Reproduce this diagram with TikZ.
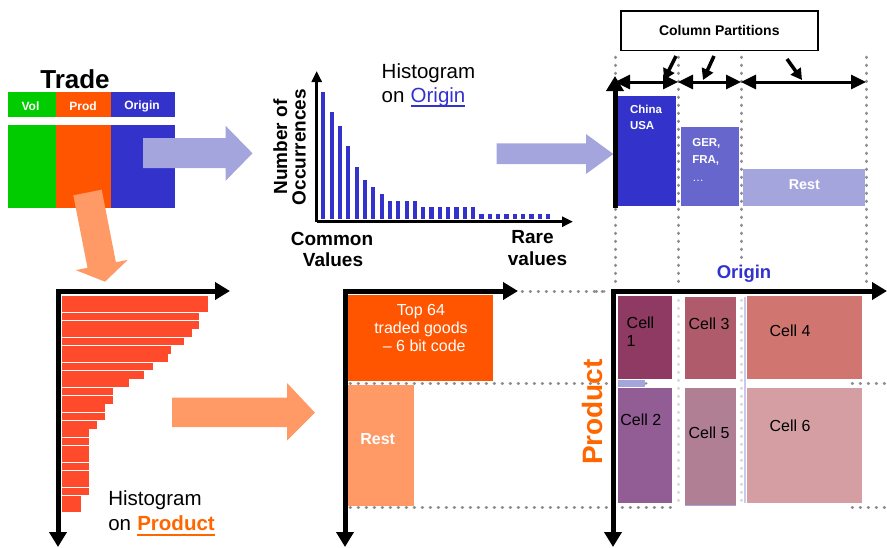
\documentclass[tikz,border=0pt]{standalone}
\usepackage{fontspec}
\setmainfont{Liberation Sans}
\usetikzlibrary{arrows.meta}
\definecolor{volgreen}{HTML}{00CC00}
\definecolor{prodorange}{HTML}{FF5500}
\definecolor{origblue}{HTML}{3333CC}
\definecolor{lav}{HTML}{A5A5DD}
\definecolor{lightor}{HTML}{FF9966}
\definecolor{hbar}{HTML}{FF4B2B}
\definecolor{midblue}{HTML}{6666CC}
\definecolor{prodtxt}{HTML}{FF6600}
\definecolor{dotgray}{HTML}{8E8E8E}
\definecolor{cellA}{HTML}{8E3A62}
\definecolor{cellB}{HTML}{925C94}
\definecolor{cellC}{HTML}{B05B6B}
\definecolor{cellD}{HTML}{D0756F}
\definecolor{cellE}{HTML}{B07F94}
\definecolor{cellF}{HTML}{D49EA2}
\newcommand\fsz[1]{\fontsize{#1}{#1}\selectfont}
\tikzset{axtip/.tip={Triangle[length=15pt,width=17pt]}}
\begin{document}
\begin{tikzpicture}[x=1pt,y=-1pt,
  txt/.style={inner sep=0pt,outer sep=0pt},
  dots/.style={draw=dotgray,line width=3pt,line cap=round,dash pattern=on 0.6pt off 7.4pt},
  faintdots/.style={dots,draw=black!15},
  axis/.style={line width=5pt},
  thinaxis/.style={line width=3pt,-{Triangle[length=11pt,width=10pt]}},
  span/.style={line width=3pt,{Triangle[length=15pt,width=14pt]}-{Triangle[length=15pt,width=14pt]}},
  pointer/.style={line width=3.5pt,-{Triangle[length=11pt,width=12pt]}},
  hdr/.style={txt,text=white,font=\bfseries\fsz{12}},
  lbl/.style={txt,font=\bfseries\fsz{19}},
  celltxt/.style={txt,font=\fsz{16}},
]
\useasboundingbox (0,0) rectangle (887,547);

% ---------- Trade table ----------
\node[txt,font=\bfseries\fsz{26},anchor=base] (trade) at (75,88) {Trade};
\fill[volgreen]   (8.3,91.7) rectangle (55.7,116.7);
\fill[prodorange] (55.7,91.7) rectangle (111,116.7);
\fill[origblue]   (111,91.7) rectangle (175,116.7);
\node[hdr] (hvol) at (30.5,106.5) {Vol};
\node[hdr] (hprod) at (83,106.5) {Prod};
\node[hdr] (horig) at (142,106.5) {Origin};
\fill[volgreen]   (8.3,125) rectangle (55.7,208.3);
\fill[prodorange] (55.7,125) rectangle (111,208.3);
\fill[origblue]   (111,125) rectangle (175,208.3);

% block arrows out of the table
\fill[lav] (143,138) -- (225.5,138) -- (225.5,125.7) -- (252.5,153.3) -- (225.5,180.9) -- (225.5,168) -- (143,168) -- cycle;
\fill[lightor] (73.3,195.3) -- (101.7,189.7) -- (115.9,262.2) -- (127.7,259.9) -- (105,281.7) -- (75.7,270.1) -- (87.5,267.8) -- cycle;

% ---------- histogram on origin ----------
\coordinate (oc) at (316.7,221.7);
\foreach \t [count=\i from 0] in {91.7,112.3,125.7,146,167.3,180,187,194,
    201,201,201,201,207,207,207,207,207,207,207,
    214.3,214.3,214.3,214.3,214.3,214.3,214.3,214.3,214.3}
  \fill[origblue] ({323.3+8.33*\i-2.1},\t) rectangle ({323.3+8.33*\i+2.1},219.3);
\draw[thinaxis] (oc) -- (316.7,71);
\draw[thinaxis] (oc) -- (573,221.7);
\node[lbl,rotate=90,anchor=base] (num) at (287,147) {Number of};
\node[lbl,rotate=90,anchor=base] (occ) at (305.5,147) {Occurrences};
\node[lbl,anchor=base] (common) at (332,245) {Common};
\node[lbl,anchor=base] (values) at (333,266.7) {Values};
\node[lbl,anchor=base] (rare) at (532.5,243) {Rare};
\node[lbl,anchor=base] (rarev) at (537.5,265) {values};
\node[txt,font=\fsz{20.5},anchor=base west] (hist1) at (381.7,78.3) {Histogram};
\node[txt,font=\fsz{20.5},anchor=base west] (on1) at (381.7,102.7) {on};
\node[txt,font=\fsz{20.5},text=origblue,anchor=base west] (orig1) at (410.7,102.7) {Origin};
\draw[origblue,line width=1.3pt] ([yshift=-3.2pt]orig1.base west) -- ([yshift=-3.2pt]orig1.base east);

\fill[lav] (496.7,143.3) -- (586,143.3) -- (586,134) -- (613.3,154) -- (586,174) -- (586,164) -- (496.7,164) -- cycle;

% ---------- column partitions ----------
\foreach \x/\y in {615/288,678/288,741/264,866/288}
  \draw[dots] (\x,57) -- (\x,\y);
\node[txt,draw,line width=1.5pt,minimum width=197pt,minimum height=39.7pt,font=\bfseries\fsz{14}] (cp) at (719.3,30.8) {Column Partitions};
\coordinate (p0) at (615,82);
\coordinate (p1) at (678,82);
\coordinate (p2) at (741,82);
\coordinate (p3) at (866,82);
\draw[span] (p0) -- (p1);
\draw[span] (p1) -- (p2);
\draw[span] (p2) -- (p3);
\draw[pointer] (676,56) -- (664,80);
\draw[pointer] (714,56) -- (703,80);
\draw[pointer] (787,59) -- (802,80);

\fill[origblue] (618,96) rectangle (676,206);
\fill[midblue] (680.7,127) rectangle (739,206);
\fill[lav] (743,169) rectangle (865,206);
\draw[axis,-axtip] (615,207.5) -- (615,76);
\node[txt,text=white,font=\bfseries\fsz{11.5},anchor=base west] (china) at (630,113.3) {China};
\node[txt,text=white,font=\bfseries\fsz{11.5},anchor=base west] (usa) at (630,129.3) {USA};
\node[txt,text=white,font=\bfseries\fsz{11.5},anchor=base west] (ger) at (692.3,146.7) {GER,};
\node[txt,text=white,font=\bfseries\fsz{11.5},anchor=base west] (fra) at (692.3,163.3) {FRA,};
\node[txt,text=white,font=\fsz{11.5},anchor=base west] (dots3) at (692.3,181.7) {\dots};
\node[txt,text=white,font=\bfseries\fsz{14.3}] (rest1) at (804.3,185) {Rest};

% ---------- histogram on product ----------
\foreach \r [count=\i from 0] in {207.7,207.7,199.3,199.3,191.7,183.7,171,168.3,152.7,144.3,
    129,113.3,113.3,105.3,105.3,97.3,89.3,89.3,89.3,89.3,89.3,89.3,89.3,89.3,81.3,81.3}
  \fill[hbar] (61.7,{296+8.33*\i}) rectangle (\r,{296+8.33*\i+7.8});
\coordinate (lx) at (230,291);
\coordinate (lc) at (58,291);
\coordinate (ly) at (58,547);
\draw[axis,axtip-axtip] (lx) -- (lc) -- (ly);
\node[txt,font=\fsz{20.5},anchor=base west] (hist2) at (108.3,505) {Histogram};
\node[txt,font=\fsz{20.5},anchor=base west] (on2) at (108.3,530) {on};
\node[txt,font=\bfseries\fsz{20.5},text=prodtxt,anchor=base west] (prod2) at (137.3,530) {Product};
\draw[prodtxt,line width=2pt] ([yshift=-5pt]prod2.base west) -- ([yshift=-5pt]prod2.base east);

\fill[lightor] (172,397.7) -- (287,397.7) -- (287,383) -- (315,412.7) -- (287,440.7) -- (287,427) -- (172,427) -- cycle;

% ---------- product partitions ----------
\draw[dots] (522,291) -- (606,291);
\draw[dots] (350,383) -- (646,383);
\draw[dots] (852,383) -- (887,383);
\draw[dots] (350,507.5) -- (676,507.5);
\draw[dots] (852,507.5) -- (887,507.5);
\fill[prodorange] (348,295) rectangle (493,381);
\fill[lightor] (348,385) rectangle (414,505.7);
\node[txt,text=white,font=\fsz{16},anchor=base] (top1) at (421,315) {Top 64};
\node[txt,text=white,font=\fsz{16},anchor=base] (top2) at (421,333.3) {traded goods};
\node[txt,text=white,font=\fsz{16},anchor=base] (top3) at (422,351.7) {\ -- 6 bit code};
\node[txt,text=white,font=\bfseries\fsz{16}] (rest2) at (377.7,439) {Rest};
\coordinate (mx) at (518,291);
\coordinate (mc) at (345,291);
\coordinate (my) at (345,547);
\draw[axis,axtip-axtip] (mx) -- (mc) -- (my);

\node[txt,rotate=90,text=prodtxt,font=\bfseries\fsz{28}] (prodlbl) at (592,412) {Product};

% ---------- cells ----------
\draw[faintdots] (678,300) -- (678,505);
\draw[faintdots] (741,300) -- (741,505);
\fill[cellA] (617.7,296) rectangle (672.3,379);
\fill[cellC] (684.7,297.3) rectangle (735.7,379);
\fill[cellD] (746.7,296) rectangle (861.7,379);
\fill[cellB] (617.7,387.7) rectangle (672.3,503.3);
\fill[cellE] (684.7,387.7) rectangle (735.7,505);
\fill[cellF] (746.7,387.7) rectangle (861.7,503.3);
\fill[lav] (617.7,380) rectangle (645,386.5);
\fill[lav!60] (743.5,297) rectangle (746.2,503.3);
\draw[lav,line width=0.8pt] (684.7,505.3) -- (735.7,505.3);
\node[celltxt,anchor=base west] (c1a) at (626.7,328.3) {Cell};
\node[celltxt,anchor=base west] (c1b) at (626.7,346.7) {1};
\node[celltxt,anchor=base] (c3) at (709,329) {Cell 3};
\node[celltxt,anchor=base] (c4) at (790,336) {Cell 4};
\node[celltxt,anchor=base] (c2) at (640.8,425) {Cell 2};
\node[celltxt,anchor=base] (c5) at (709,438.3) {Cell 5};
\node[celltxt,anchor=base] (c6) at (790,431.7) {Cell 6};
\coordinate (rx) at (887,291);
\coordinate (rc) at (613,291);
\coordinate (ry) at (613,547);
\draw[dots] (596,291) -- (604,291);
\draw[axis,axtip-axtip] (rx) -- (rc) -- (ry);
\node[txt,text=origblue,font=\bfseries\fsz{18.5}] (origlbl) at (744,274) {Origin};
\end{tikzpicture}
\end{document}
